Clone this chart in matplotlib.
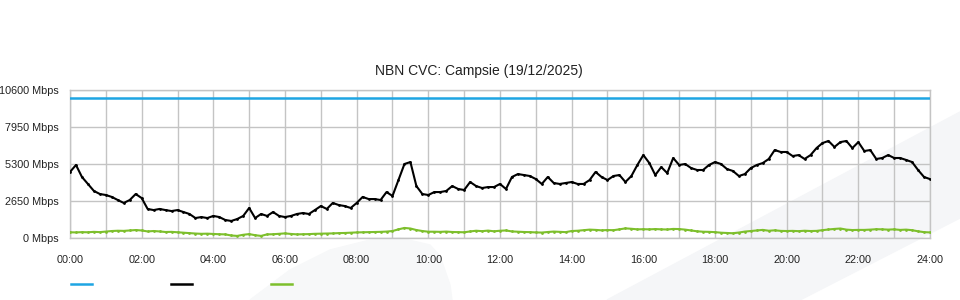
import numpy as np
import matplotlib
matplotlib.use("Agg")
import matplotlib.pyplot as plt
from matplotlib.patches import Polygon
from matplotlib.lines import Line2D

plt.rcParams['font.family'] = ['Liberation Sans', 'DejaVu Sans']

title = "NBN CVC: Campsie (19/12/2025)"

# 10-minute samples, 00:00 -> 24:00
hours = np.linspace(0, 24, 145)

capacity = [10000] * 145

traffic = [
    4730, 5230, 4370, 3870, 3370, 3150, 3080, 2940, 2720, 2510,
    2720, 3150, 2860, 2080, 2000, 2080, 2000, 1930, 2000, 1860,
    1720, 1430, 1500, 1430, 1580, 1500, 1290, 1220, 1360, 1580,
    2150, 1430, 1720, 1580, 1860, 1580, 1500, 1580, 1720, 1790,
    1720, 2000, 2290, 2080, 2510, 2360, 2290, 2150, 2510, 2940,
    2790, 2790, 2720, 3290, 3010, 4150, 5300, 5440, 3720, 3150,
    3080, 3290, 3290, 3370, 3720, 3510, 3440, 4010, 3720, 3580,
    3650, 3650, 3870, 3510, 4370, 4580, 4510, 4440, 4220, 3870,
    4370, 3940, 3870, 3940, 4010, 3870, 3870, 4150, 4730, 4370,
    4150, 4440, 4510, 4010, 4440, 5230, 5940, 5370, 4510, 5080,
    4650, 5730, 5230, 5300, 5010, 4870, 4870, 5230, 5440, 5300,
    4940, 4800, 4440, 4580, 5010, 5230, 5370, 5660, 6300, 6160,
    6160, 5870, 5940, 5660, 5940, 6440, 6800, 6950, 6520, 6870,
    6950, 6440, 6870, 6230, 6300, 5660, 5730, 5940, 5730, 5730,
    5590, 5440, 4870, 4370, 4220,
]

usage_up = [
    410, 400, 420, 410, 440, 420, 460, 500, 520, 510,
    540, 570, 540, 470, 500, 470, 430, 440, 410, 380,
    350, 320, 300, 310, 290, 270, 260, 180, 150, 230,
    280, 200, 150, 260, 270, 300, 330, 290, 260, 270,
    280, 300, 310, 320, 330, 350, 360, 380, 400, 410,
    420, 430, 440, 460, 500, 620, 720, 680, 570, 500,
    450, 450, 440, 460, 430, 420, 410, 470, 520, 490,
    530, 480, 520, 540, 470, 450, 430, 420, 400, 390,
    430, 460, 440, 420, 500, 520, 560, 600, 580, 550,
    570, 560, 620, 690, 660, 620, 630, 620, 640, 620,
    610, 650, 640, 600, 540, 480, 450, 440, 420, 380,
    360, 340, 390, 460, 500, 540, 580, 520, 550, 510,
    500, 510, 490, 520, 500, 510, 560, 610, 650, 680,
    600, 570, 580, 580, 600, 630, 620, 600, 620, 580,
    600, 560, 480, 420, 400,
]

y_ticks = [0, 2650, 5300, 7950, 10600]
x_ticks = [0, 2, 4, 6, 8, 10, 12, 14, 16, 18, 20, 22, 24]

blue = '#1ea5e3'
green = '#7dbf2c'
grid_col = '#c4c4c4'

fig = plt.figure(figsize=(9.6, 3.0), dpi=100)

# faint watermark shapes behind everything
band = Polygon([(607/960, 0), (1, 1 - 112/300), (1, 1 - 218/300), (800/960, 0)],
               closed=True, transform=fig.transFigure, color='#f5f6f8', zorder=-5)
blob = Polygon([(250/960, 0), (290/960, 1 - 270/300), (330/960, 1 - 250/300),
                (370/960, 1 - 240/300), (400/960, 1 - 238/300), (430/960, 1 - 245/300),
                (440/960, 1 - 256/300), (450/960, 1 - 285/300), (452/960, 0)],
               closed=True, transform=fig.transFigure, color='#f7f8f9', zorder=-5)
fig.patches.extend([band, blob])

ax = fig.add_axes([70/960, 62/300, 860/960, 148/300])
ax.patch.set_alpha(0)

ax.plot(hours, capacity, color=blue, lw=1.8, zorder=3)
ax.plot(hours, traffic, color='black', lw=1.5, marker='.', markersize=2, zorder=4)
ax.plot(hours, usage_up, color=green, lw=1.5, marker='.', markersize=2, zorder=4)

ax.set_xlim(0, 24)
ax.set_ylim(0, 10600)
ax.set_yticks(y_ticks)
ax.set_yticklabels([f"{v} Mbps" for v in y_ticks])
ax.set_xticks(x_ticks)
ax.set_xticklabels([f"{h:02d}:00" for h in x_ticks])
ax.set_xticks(range(0, 25), minor=True)
ax.tick_params(axis='both', which='both', length=0, labelsize=7.8, colors='#222222')
ax.tick_params(axis='y', pad=8)
ax.tick_params(axis='x', pad=12)
ax.grid(True, which='both', color=grid_col, lw=1)
for s in ax.spines.values():
    s.set_color(grid_col)
    s.set_linewidth(1)

fig.text(479/960, 1 - 71/300, title, ha='center', va='center', fontsize=10, color='#222222')

handles = [Line2D([], [], color=blue, lw=1.8),
           Line2D([], [], color='black', lw=1.8),
           Line2D([], [], color=green, lw=1.8)]
fig.legend(handles, ['', '', ''], loc='center left', bbox_to_anchor=(71/960, 15/300),
           ncol=3, frameon=False, fontsize=8, handlelength=1.9, handletextpad=0,
           columnspacing=7.1, borderpad=0, borderaxespad=0)

fig.savefig('out.png', dpi=100)
